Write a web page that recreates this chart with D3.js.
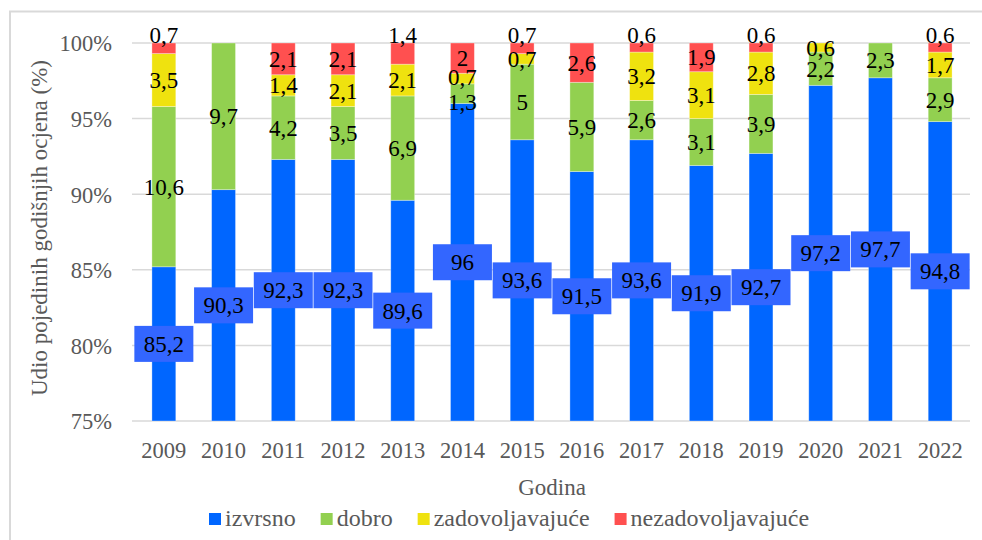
<!DOCTYPE html>
<html>
<head>
<meta charset="utf-8">
<script src="https://cdn.jsdelivr.net/npm/d3@7/dist/d3.min.js"></script>
<style>
  html, body { margin: 0; padding: 0; background: #fff; }
  svg { display: block; }
</style>
</head>
<body>
<div id="chart"></div>
<script>
// Data
const years = ['2009', '2010', '2011', '2012', '2013', '2014', '2015', '2016', '2017', '2018', '2019', '2020', '2021', '2022'];
const izvrsno = [85.2, 90.3, 92.3, 92.3, 89.6, 96, 93.6, 91.5, 93.6, 91.9, 92.7, 97.2, 97.7, 94.8];
const dobro = [10.6, 9.7, 4.2, 3.5, 6.9, 1.3, 5, 5.9, 2.6, 3.1, 3.9, 2.2, 2.3, 2.9];
const zadovoljavajuce = [3.5, 0, 1.4, 2.1, 2.1, 0.7, 0.7, 0, 3.2, 3.1, 2.8, 0.6, 0, 1.7];
const nezadovoljavajuce = [0.7, 0, 2.1, 2.1, 1.4, 2, 0.7, 2.6, 0.6, 1.9, 0.6, 0, 0, 0.6];
const seriesNames = ['izvrsno', 'dobro', 'zadovoljavajuće', 'nezadovoljavajuće'];
const yTicks = [75, 80, 85, 90, 95, 100];

const colors = ['#0066ff', '#92d050', '#efe20f', '#ff5050'];
const FONT = 'Liberation Serif, serif';
const fmt = v => String(v).replace('.', ',');

const W = 982, H = 540;
const plot = { left: 134, right: 970, top: 43, bottom: 421 };

const svg = d3.select('#chart').append('svg')
    .attr('width', W)
    .attr('height', H)
    .attr('font-family', FONT);

// outer chart border (only left/top visible in the frame)
svg.append('rect')
    .attr('x', 10).attr('y', 11.5)
    .attr('width', 1000).attr('height', 600)
    .attr('fill', 'none')
    .attr('stroke', '#d9d9d9')
    .attr('stroke-width', 2);

const rows = years.map((y, i) => ({
    year: y,
    s0: izvrsno[i], s1: dobro[i], s2: zadovoljavajuce[i], s3: nezadovoljavajuce[i]
}));
const keys = ['s0', 's1', 's2', 's3'];
const stacked = d3.stack().keys(keys)(rows);

const x = d3.scaleBand()
    .domain(years)
    .range([plot.left, plot.right])
    .paddingInner(0.6)
    .paddingOuter(0.3);

const y = d3.scaleLinear()
    .domain([75, 100])
    .range([plot.bottom, plot.top])
    .clamp(true);

// gridlines
svg.append('g')
    .selectAll('line')
    .data(yTicks)
    .enter()
    .append('line')
    .attr('x1', plot.left - 2)
    .attr('x2', plot.right)
    .attr('y1', d => y(d))
    .attr('y2', d => y(d))
    .attr('stroke', '#d9d9d9')
    .attr('stroke-width', 1.5);

// y axis labels
const yAxis = svg.append('g')
    .attr('transform', `translate(${plot.left - 22},0)`)
    .call(d3.axisLeft(y).tickValues(yTicks).tickSize(0).tickPadding(0).tickFormat(d => d + '%'));
yAxis.attr('font-family', FONT).attr('font-size', 22.5);
yAxis.select('.domain').remove();
yAxis.selectAll('text')
    .attr('dy', '0.35em')
    .attr('fill', '#595959');

// x axis labels
const xAxis = svg.append('g')
    .attr('transform', `translate(0,${plot.bottom})`)
    .call(d3.axisBottom(x).tickSize(0).tickPadding(0));
xAxis.attr('font-family', FONT).attr('font-size', 22.5);
xAxis.select('.domain').remove();
xAxis.selectAll('text')
    .attr('y', 37)
    .attr('dy', 0)
    .attr('fill', '#595959');

// bars
stacked.forEach((layer, si) => {
    svg.append('g')
        .selectAll('rect')
        .data(layer)
        .enter()
        .append('rect')
        .attr('x', d => x(d.data.year))
        .attr('width', x.bandwidth())
        .attr('y', d => y(d[1]))
        .attr('height', d => Math.max(0, y(d[0]) - y(d[1])))
        .attr('fill', colors[si])
        .attr('stroke', '#ffffff')
        .attr('stroke-opacity', 0.4)
        .attr('stroke-width', 0.8);
});

// data labels (segment centre; tiny top segments sit above the bar; 2014 small ones nudged apart)
stacked.forEach((layer, si) => {
    const g = svg.append('g');
    layer.forEach(d => {
        const v = d.data[keys[si]];
        if (!v) return;
        const cx = x(d.data.year) + x.bandwidth() / 2;
        let cy = (y(Math.max(d[0], 75)) + y(d[1])) / 2;
        if (si === 3 && v < 1.5) cy = y(100) - 8;
        if (d.data.year === '2014' && si === 1) cy += 8;
        if (d.data.year === '2014' && si === 2) cy -= 2;
        if (si === 0) {
            g.append('rect')
                .attr('x', cx - 29.5)
                .attr('y', cy - 18)
                .attr('width', 59)
                .attr('height', 36)
                .attr('fill', '#3366ff');
        }
        g.append('text')
            .attr('x', cx)
            .attr('y', cy)
            .attr('dy', '0.35em')
            .attr('text-anchor', 'middle')
            .attr('font-family', FONT)
            .attr('font-size', 23)
            .attr('fill', '#000')
            .text(fmt(v));
    });
});

// axis titles
svg.append('text')
    .attr('transform', 'translate(47,228) rotate(-90)')
    .attr('text-anchor', 'middle')
    .attr('font-family', FONT)
    .attr('font-size', 23)
    .attr('fill', '#595959')
    .text('Udio pojedinih godišnjih ocjena (%)');

svg.append('text')
    .attr('x', (plot.left + plot.right) / 2)
    .attr('y', 495)
    .attr('text-anchor', 'middle')
    .attr('font-family', FONT)
    .attr('font-size', 23)
    .attr('fill', '#595959')
    .text('Godina');

// legend
const legend = svg.append('g');
let lx = 209;
seriesNames.forEach((name, i) => {
    legend.append('rect')
        .attr('x', lx).attr('y', 513)
        .attr('width', 12).attr('height', 12)
        .attr('fill', colors[i]);
    const t = legend.append('text')
        .attr('x', lx + 16)
        .attr('y', 526)
        .attr('font-family', FONT)
        .attr('font-size', 24)
        .attr('fill', '#595959')
        .text(name);
    lx += 16 + t.node().getComputedTextLength() + 25;
});
</script>
</body>
</html>
